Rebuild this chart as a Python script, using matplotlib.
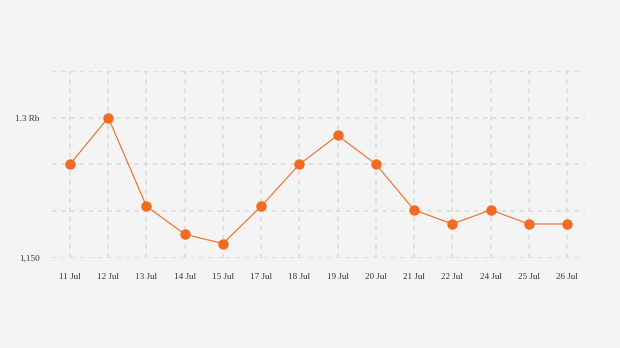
import matplotlib
matplotlib.use("Agg")
import matplotlib.pyplot as plt

# data
dates = ["11 Jul", "12 Jul", "13 Jul", "14 Jul", "15 Jul", "17 Jul", "18 Jul",
         "19 Jul", "20 Jul", "21 Jul", "22 Jul", "24 Jul", "25 Jul", "26 Jul"]
values = [1250, 1300, 1205, 1175, 1165, 1205, 1250,
          1281, 1250, 1201, 1186, 1201, 1186, 1186]
y_ticks = [1150, 1200, 1250, 1300, 1350]
y_labels = ["1,150", "", "", "1.3 Rb", ""]

bg = "#f4f4f4"
orange = "#f26b21"

fig = plt.figure(figsize=(6.2, 3.48), dpi=100, facecolor=bg)
ax = fig.add_axes([0.0839, 0.260, 0.8597, 0.536], facecolor=bg)

x = list(range(len(dates)))
ax.plot(x, values, color=orange, lw=0.8, marker="o", markersize=6.5,
        markeredgecolor=orange, zorder=3)

ax.set_xlim(-0.47, len(dates) - 1 + 0.47)
ax.set_ylim(1150, 1350)
ax.set_xticks(x)
ax.set_xticklabels(dates)
ax.set_yticks(y_ticks)
ax.set_yticklabels(y_labels)

ax.grid(True, color="#dadada", linestyle=(0, (3, 3)), linewidth=1.1)
for s in ax.spines.values():
    s.set_visible(False)
ax.tick_params(length=0, labelsize=6.6, colors="#333333")
ax.tick_params(axis="x", pad=11.5)
ax.tick_params(axis="y", pad=9)
for lab in ax.get_xticklabels() + ax.get_yticklabels():
    lab.set_family("Liberation Serif")

fig.savefig("out.png", dpi=100, facecolor=bg)
